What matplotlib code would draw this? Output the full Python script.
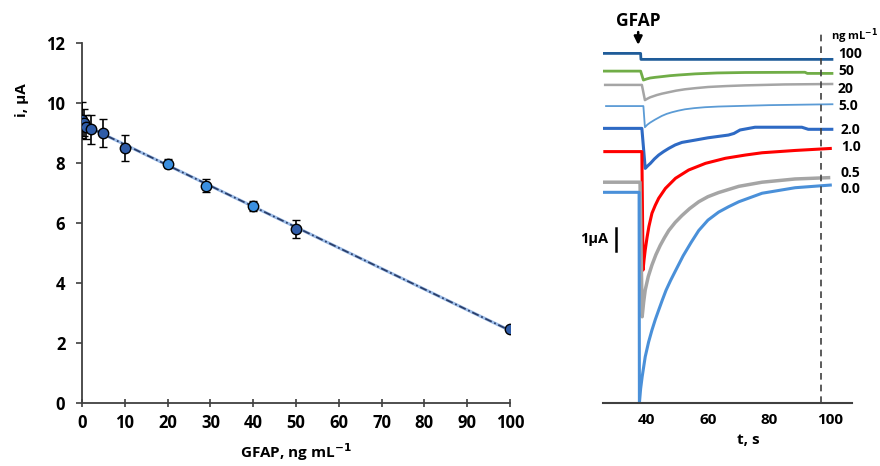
import numpy as np
import matplotlib
matplotlib.use("Agg")
import matplotlib.pyplot as plt

plt.rcParams['font.family'] = ['Open Sans', 'DejaVu Sans']
plt.rcParams['font.weight'] = 'bold'

# Calibration: current vs GFAP concentration
conc = [0, 0.5, 1, 2, 5, 10, 20, 29, 40, 50, 100]
current = [9.42, 9.35, 9.2, 9.12, 8.99, 8.49, 7.97, 7.24, 6.58, 5.79, 2.46]
current_err = [0.6, 0.45, 0.4, 0.48, 0.46, 0.43, 0.15, 0.22, 0.17, 0.3, 0.05]
point_colors = ['#2f5ca8', '#2f5ca8', '#2f5ca8', '#2f5ca8', '#2f5ca8', '#2f5ca8',
                '#3a8fe0', '#3a8fe0', '#3a8fe0', '#2f5ca8', '#2f5ca8']

# Amperometric traces (time in s, current in uA, offset for display)
traces = {
    '100': ([25.5, 38.0, 38.1, 101], [15.20, 15.20, 14.94, 14.94]),
    '50': ([25.5, 38.0, 38.9, 40.0, 41.1, 42.8, 44.9, 47.5, 50.3, 55.8, 63.0, 72.1, 91.7,
            92.5, 101],
           [14.43, 14.43, 14.04, 14.09, 14.13, 14.16, 14.19, 14.23, 14.26, 14.31, 14.35,
            14.37, 14.38, 14.33, 14.33]),
    '20': ([26.0, 38.4, 39.4, 40.2, 41.1, 42.2, 43.3, 45.0, 47.1, 49.6, 52.5, 56.0, 60.1,
            66.0, 72.1, 85.0, 101],
           [13.83, 13.83, 13.17, 13.23, 13.29, 13.34, 13.39, 13.45, 13.51, 13.58, 13.64,
            13.69, 13.74, 13.78, 13.81, 13.85, 13.87]),
    '5.0': ([26.4, 38.9, 39.4, 40.2, 41.1, 42.7, 44.9, 46.5, 48.2, 50.3, 52.5, 55.5, 59.0,
             63.5, 68.9, 80.0, 101],
            [12.91, 12.91, 11.99, 12.10, 12.19, 12.32, 12.48, 12.57, 12.64, 12.71, 12.77,
             12.82, 12.86, 12.89, 12.91, 12.95, 12.99]),
    '2.0': ([25.5, 38.4, 39.5, 40.3, 41.2, 42.5, 43.9, 45.5, 47.2, 49.3, 51.5, 55.8, 60.0,
             66.7, 68.5, 70.5, 75.4, 90.7, 92.8, 101],
            [11.94, 11.94, 10.20, 10.31, 10.42, 10.61, 10.78, 10.93, 11.07, 11.22, 11.33,
             11.43, 11.53, 11.65, 11.72, 11.87, 11.99, 11.99, 11.90, 11.90]),
    '1.0': ([25.8, 38.4, 38.8, 39.1, 39.5, 40.1, 40.7, 41.7, 42.8, 43.9, 46.1, 49.4, 53.7,
             59.2, 65.7, 72.2, 77.7, 88.5, 100.5],
            [10.93, 10.93, 5.78, 6.20, 6.65, 7.20, 7.67, 8.25, 8.60, 8.90, 9.33, 9.77,
             10.13, 10.42, 10.64, 10.78, 10.88, 10.98, 11.07]),
    '0.5': ([25.5, 37.8, 38.5, 39.0, 39.5, 40.5, 41.7, 43.0, 44.4, 45.8, 47.2, 49.3, 51.5,
             54.0, 57.0, 60.0, 63.5, 70.1, 77.7, 88.5, 100],
            [9.60, 9.60, 3.75, 4.40, 4.91, 5.50, 6.00, 6.45, 6.85, 7.19, 7.50, 7.85, 8.15,
             8.45, 8.75, 8.97, 9.15, 9.42, 9.60, 9.74, 9.80]),
    '0.0': ([25.5, 37.5, 37.6, 38.0, 38.5, 39.5, 40.6, 41.7, 42.8, 43.9, 45.1, 46.3, 47.8,
             49.4, 51.9, 54.5, 57.0, 60.0, 63.5, 66.7, 70.1, 77.7, 88.5, 100.5],
            [9.16, 9.16, 0.0, 0.62, 1.14, 2.01, 2.65, 3.17, 3.63, 4.04, 4.48, 4.90, 5.33,
             5.75, 6.40, 6.98, 7.50, 7.95, 8.30, 8.53, 8.75, 9.12, 9.36, 9.48]),
}
trace_colors = {'100': '#1f5c99', '50': '#70ad47', '20': '#a5a5a5', '5.0': '#5b9bd5',
                '2.0': '#2e6ac4', '1.0': '#ff0000', '0.5': '#a5a5a5', '0.0': '#4a90d9'}
trace_widths = {'100': 2.0, '50': 2.0, '20': 1.8, '5.0': 1.3,
                '2.0': 2.2, '1.0': 2.2, '0.5': 2.5, '0.0': 2.2}
label_pos = {'100': (102.5, 15.17), '50': (102.5, 14.43), '20': (102.5, 13.67),
             '5.0': (102.5, 12.91), '2.0': (103.5, 11.87), '1.0': (103.5, 11.13),
             '0.5': (103.5, 10.0), '0.0': (103.5, 9.32)}

fig = plt.figure(figsize=(8.8, 4.66), dpi=100)

# ---- calibration plot ----
ax1 = fig.add_axes([82/880, 63/466, 428/880, 360/466])
slope, intercept = np.polyfit(conc, current, 1)
xf = np.array([0, 100])
ax1.plot(xf, intercept + slope*xf, color='#9dbde8', lw=2.2, zorder=1)
ax1.plot(xf, intercept + slope*xf, color='#2b3f6b', lw=1.3,
         linestyle=(0, (4, 1.5, 1, 1.5)), zorder=2)
for x, y, e, c in zip(conc, current, current_err, point_colors):
    ax1.errorbar(x, y, yerr=e, fmt='o', ms=7.5, mfc=c, mec='black', mew=1.0,
                 ecolor='black', elinewidth=1.2, capsize=3, capthick=1.2, zorder=3)
ax1.set_xlim(0, 100)
ax1.set_ylim(0, 12)
ax1.set_xticks(range(0, 101, 10))
ax1.set_yticks(range(0, 13, 2))
for s in ['top', 'right']:
    ax1.spines[s].set_visible(False)
for s in ['left', 'bottom']:
    ax1.spines[s].set_color('#404040')
    ax1.spines[s].set_linewidth(1.3)
ax1.tick_params(axis='x', direction='inout', length=6, width=1.2, color='#404040',
                labelsize=12, pad=5)
ax1.tick_params(axis='y', direction='out', length=4, width=1.2, color='#404040',
                labelsize=12, pad=8)
for lab in ax1.get_xticklabels() + ax1.get_yticklabels():
    lab.set_fontweight('bold')
ax1.patch.set_alpha(0)
fig.text(22/880, 1 - 100/466, 'i, \u03bcA', rotation=90, ha='center', va='center',
         fontsize=11, fontweight='bold')
fig.text(296/880, 1 - 452/466, 'GFAP, ng mL$^{\\mathbf{-1}}$', ha='center', va='center',
         fontsize=11, fontweight='bold')

# ---- amperometric traces ----
ax2 = fig.add_axes([602.7/880, 63/466, 249/880, 403/466])
for key, (t, i) in traces.items():
    ax2.plot(t, i, color=trace_colors[key], lw=trace_widths[key],
             solid_joinstyle='round', solid_capstyle='butt')
    ax2.text(label_pos[key][0], label_pos[key][1], key, ha='left', va='center',
             fontsize=10, fontweight='bold', clip_on=False)
ax2.text(100.3, 15.96, 'ng mL$^{\\mathbf{-1}}$', ha='left', va='center',
         fontsize=8, fontweight='bold', clip_on=False)
ax2.plot([97, 97], [0, 16.1], color='#404040', lw=1.2, linestyle=(0, (4, 3)))
ax2.plot([30, 30], [6.61, 7.61], color='black', lw=1.8)
ax2.text(27.5, 7.13, '1\u03bcA', ha='right', va='center', fontsize=10.5, fontweight='bold')
ax2.annotate('', xy=(37.2, 15.45), xytext=(37.2, 16.25),
             arrowprops=dict(arrowstyle='-|>', color='black', lw=1.8, mutation_scale=12))
ax2.text(37.2, 16.6, 'GFAP', ha='center', va='center', fontsize=12.5, fontweight='bold')
ax2.set_xlim(25.6, 107)
ax2.set_ylim(0, 403/23)
ax2.set_xticks([40, 60, 80, 100])
ax2.set_yticks([])
for s in ['top', 'right', 'left']:
    ax2.spines[s].set_visible(False)
ax2.spines['bottom'].set_color('#404040')
ax2.spines['bottom'].set_linewidth(1.5)
ax2.tick_params(axis='x', length=0, labelsize=11, pad=7)
for lab in ax2.get_xticklabels():
    lab.set_fontweight('bold')
ax2.patch.set_alpha(0)
fig.text(748/880, 1 - 440/466, 't, s', ha='center', va='center',
         fontsize=11, fontweight='bold')

fig.savefig('out.png', dpi=100)
